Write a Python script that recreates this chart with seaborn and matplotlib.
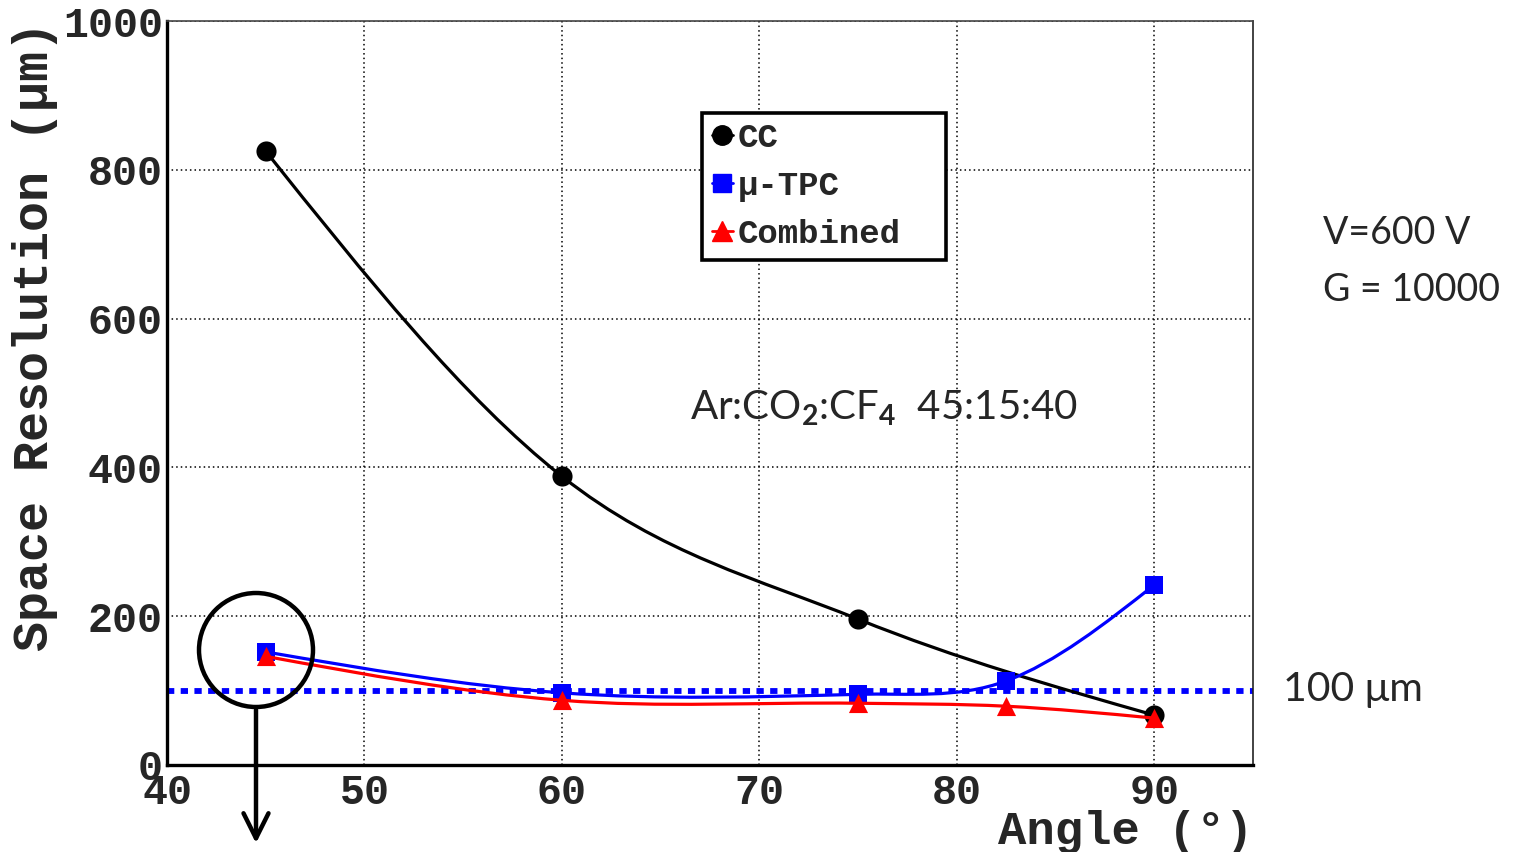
import numpy as np
import pandas as pd
import matplotlib
matplotlib.use("Agg")
import matplotlib.pyplot as plt
import seaborn as sns
from matplotlib.path import Path
from matplotlib.patches import PathPatch, Ellipse, FancyArrowPatch
from matplotlib.lines import Line2D

# ---------------- data ----------------
cc_angle = [45, 60, 75, 90]
cc_res = [825, 388, 196, 67]

tpc_angle = [45, 60, 75, 82.5, 90]
tpc_res = [152, 97, 95, 113, 242]

comb_angle = [45, 60, 75, 82.5, 90]
comb_res = [146, 87, 83, 79, 63]

ref_level = 100
series_names = ["CC", "\u03bc-TPC", "Combined"]
x_ticks = [40, 50, 60, 70, 80, 90]
y_ticks = [0, 200, 400, 600, 800, 1000]

# ---------------- style ----------------
sns.set_style("white")
plt.rcParams["font.family"] = ["Liberation Mono", "DejaVu Sans"]
plt.rcParams["font.weight"] = "bold"
plt.rcParams["mathtext.fontset"] = "custom"
plt.rcParams["mathtext.rm"] = "Lato"
plt.rcParams["mathtext.it"] = "Lato"

W, H = 1535, 852
fig = plt.figure(figsize=(W / 100, H / 100), dpi=100)
ax = fig.add_axes([167 / W, (H - 765) / H, (1253 - 167) / W, (765 - 21) / H])

colors = {"CC": "black", "\u03bc-TPC": "blue", "Combined": "red"}
markers = {"CC": "o", "\u03bc-TPC": "s", "Combined": "^"}
msizes = {"CC": 210, "\u03bc-TPC": 180, "Combined": 190}

ax.axhline(ref_level, color="blue", lw=4.2, ls=(0, (1.25, 1.1)), zorder=2)


def smooth_path(xs, ys):
    xs = np.asarray(xs, float)
    ys = np.asarray(ys, float)
    n = len(xs)
    d = np.diff(ys) / np.diff(xs)
    m = np.zeros(n)
    for i in range(1, n - 1):
        m[i] = (ys[i + 1] - ys[i - 1]) / (xs[i + 1] - xs[i - 1])
    m[0] = (3 * d[0] - m[1]) / 2
    m[-1] = (3 * d[-1] - m[-2]) / 2
    verts = [(xs[0], ys[0])]
    codes = [Path.MOVETO]
    for i in range(n - 1):
        h = xs[i + 1] - xs[i]
        verts += [(xs[i] + h / 3, ys[i] + m[i] * h / 3),
                  (xs[i + 1] - h / 3, ys[i + 1] - m[i + 1] * h / 3),
                  (xs[i + 1], ys[i + 1])]
        codes += [Path.CURVE4] * 3
    return Path(verts, codes)


frames = []
for name, xs, ys in zip(series_names, [cc_angle, tpc_angle, comb_angle],
                        [cc_res, tpc_res, comb_res]):
    frames.append(pd.DataFrame({"Angle": xs, "Res": ys, "Method": name}))

for k, df in enumerate(frames):
    name = series_names[k]
    patch = PathPatch(smooth_path(df["Angle"], df["Res"]), fill=False,
                      edgecolor=colors[name], lw=2.3, zorder=3 + 2 * k)
    ax.add_patch(patch)
    sns.scatterplot(data=df, x="Angle", y="Res", ax=ax, color=colors[name],
                    marker=markers[name], s=msizes[name], linewidth=0,
                    zorder=4 + 2 * k, legend=False)

ax.set_xlim(40, 95)
ax.set_ylim(0, 1000)
ax.set_xticks(x_ticks)
ax.set_yticks(y_ticks)
ax.set_xticks(np.arange(42, 95, 2), minor=True)
ax.set_yticks(np.arange(50, 1000, 50), minor=True)
ax.grid(True, which="major", ls=(0, (1, 2)), color="black", lw=1.1)

ax.tick_params(axis="x", which="major", direction="in", length=17, width=1.8,
               labelsize=30, pad=6, top=False)
ax.tick_params(axis="x", which="minor", direction="in", length=8.5, width=1.8, top=False)
ax.tick_params(axis="y", which="major", direction="in", length=24, width=1.8,
               labelsize=30, pad=3, right=False)
ax.tick_params(axis="y", which="minor", direction="in", length=13, width=1.8, right=False)
for lab in ax.get_xticklabels() + ax.get_yticklabels():
    lab.set_fontweight("bold")

for s in ["left", "bottom"]:
    ax.spines[s].set_linewidth(2.4)
    ax.spines[s].set_color("black")
ax.spines["top"].set_linewidth(1.2)
ax.spines["top"].set_color("#444444")
ax.spines["right"].set_linewidth(1.2)
ax.spines["right"].set_color("#222222")

ax.set_xlabel("Angle (\u00b0)", fontsize=34, fontweight="bold", loc="right")
ax.set_ylabel("Space Resolution (\u03bcm)", fontsize=36, fontweight="bold", loc="top")
ax.xaxis.set_label_coords(1.0, (765 - 832) / 744)
ax.xaxis.label.set_va("center")
ax.yaxis.set_label_coords((35 - 167) / 1086, 1.0)
ax.yaxis.label.set_va("center")

handles = [Line2D([], [], color=colors[n], marker=markers[n], lw=2,
                  markersize=14 if n != "\u03bc-TPC" else 13) for n in series_names]
leg = ax.legend(handles, series_names, loc="upper left", mode="expand",
                bbox_to_anchor=(702 / W, 1 - 262 / H, (946 - 702) / W, (262 - 113) / H),
                bbox_transform=fig.transFigure,
                borderaxespad=0, frameon=True, fancybox=False, handlelength=0.6,
                handletextpad=0.15, labelspacing=0.5, borderpad=0.3,
                prop={"family": "Liberation Mono", "weight": "bold", "size": 24.5})
leg.get_frame().set_edgecolor("black")
leg.get_frame().set_linewidth(2.6)
leg.get_frame().set_alpha(1)

# annotations
txt_font = "Lato"
fig.text(690 / W, 1 - 408 / H, r"Ar:CO$_2$:CF$_4$  45:15:40", fontsize=29,
         family=txt_font, fontweight="normal", va="center", ha="left")
fig.text(1323 / W, 1 - 233 / H, "V=600 V", fontsize=27, family=txt_font,
         fontweight="normal", va="center", ha="left")
fig.text(1323 / W, 1 - 290 / H, "G = 10000", fontsize=27, family=txt_font,
         fontweight="normal", va="center", ha="left")
fig.text(1283 / W, 1 - 689 / H, "100 \u03bcm", fontsize=29.5, family=txt_font,
         fontweight="normal", va="center", ha="left")

circ = Ellipse((256 / W, 1 - 650 / H), 114 / W, 114 / H, transform=fig.transFigure,
               fill=False, edgecolor="black", lw=3.2, zorder=20)
fig.add_artist(circ)
arr = FancyArrowPatch((256 / W, 1 - 707 / H), (256 / W, 1 - 846 / H),
                      transform=fig.transFigure, arrowstyle="->", mutation_scale=45,
                      lw=3.2, color="black", zorder=20)
fig.add_artist(arr)

fig.savefig("out.png", dpi=100)
